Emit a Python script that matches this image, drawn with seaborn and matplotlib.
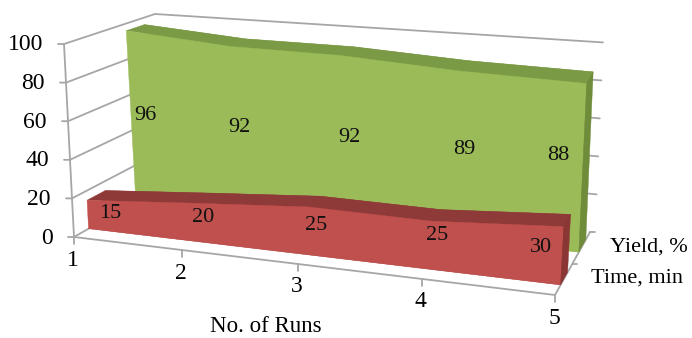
import numpy as np
import pandas as pd
import matplotlib
matplotlib.use("Agg")
import matplotlib.pyplot as plt
import seaborn as sns

runs = [1, 2, 3, 4, 5]
yield_pct = [96, 92, 92, 89, 88]
time_min = [15, 20, 25, 25, 30]
y_ticks = [0, 20, 40, 60, 80, 100]
series_names = ["Time, min", "Yield, %"]
x_title = "No. of Runs"

GREEN, GREEN_TOP, GREEN_SIDE = "#9BBB59", "#7A9A45", "#6F8C3A"
RED, RED_TOP, RED_SIDE = "#C0504D", "#8E3A38", "#8A3634"
GREY = "#A6A6A6"

# corners of the 3D box in picture pixels: (run end, depth, value end)
C = {(0, 0, 0): (74, 237), (1, 0, 0): (555, 295),
     (0, 1, 0): (165, 185), (1, 1, 0): (590, 232),
     (0, 0, 1): (64, 44),  (1, 0, 1): (566, 100),
     (0, 1, 1): (155, 14), (1, 1, 1): (598, 42)}
K = 1.15


def proj(run, depth, value):
    u = (run - 1) / 4
    s = u / (u + K * (1 - u))
    v = value / 100
    p = np.zeros(2)
    for (a, b, c), xy in C.items():
        w = (s if a else 1 - s) * (depth if b else 1 - depth) * (v if c else 1 - v)
        p += w * np.array(xy)
    return p


sns.set_theme(style="white")
plt.rcParams["font.family"] = ["Liberation Serif", "DejaVu Serif"]
fig, ax = plt.subplots(figsize=(6.92, 3.38), dpi=100)
ax.set_position([0, 0, 1, 1])
ax.set_xlim(0, 692)
ax.set_ylim(338, 0)
ax.axis("off")


def seg(points, color=GREY, lw=1.3, z=1):
    df = pd.DataFrame(points, columns=["x", "y"])
    sns.lineplot(data=df, x="x", y="y", sort=False, estimator=None,
                 color=color, lw=lw, ax=ax, zorder=z, legend=False)


# walls
for t in y_ticks:
    a, b, c = proj(1, 0, t), proj(1, 1, t), proj(5, 1, t)
    seg([a + (-6, 0), a, b, c + (5, 0.4)] if t else [a + (-6, 0), a])
    ax.text(a[0] - 21, a[1] + 1, str(t), ha="right", va="center", fontsize=17, color="black")
seg([proj(5, 1, 0), proj(5, 1, 0) + (5, 0)])
seg([proj(1, 0, 0), proj(1, 0, 100)])
seg([proj(1, 0, 0), proj(5, 0, 0), proj(5, 1, 0)])
seg([proj(1, 0, 0), proj(1, 1, 0)])
for r in runs:
    p = proj(r, 0, 0)
    seg([p, p + (0, 7)])
    ax.text(p[0] - 1, p[1] + (23 if r > 1 else 23), str(r), ha="center", va="center", fontsize=17, color="black")
p = proj(5, 0.5, 0)
seg([p, p + (4, 0)])


def area(values, d0, d1, front, top, side, z):
    f = [proj(r, d0, v) for r, v in zip(runs, values)]
    b = [proj(r, d1, v) for r, v in zip(runs, values)]
    fb = [proj(r, d0, 0) for r in runs]
    ax.fill(*zip(*(b + fb[::-1])), color=top, lw=0, zorder=z)
    for i in range(len(runs) - 1):
        ax.fill(*zip(f[i], f[i + 1], b[i + 1], b[i]), color=top, lw=0.3, zorder=z)
    ax.fill(*zip(*(f + fb[::-1])), color=front, lw=0.3, zorder=z + 1)
    r = runs[-1]
    ax.fill(*zip(f[-1], b[-1], proj(r, d1, 0), proj(r, d0, 0)), color=side, lw=0.3, zorder=z + 1)


area(yield_pct, 0.68, 0.88, GREEN, GREEN_TOP, GREEN_SIDE, 3)
area(time_min, 0.16, 0.36, RED, RED_TOP, RED_SIDE, 5)

yield_lab = [(145, 115), (239, 127), (349, 137), (464, 150), (558, 155)]
time_lab = [(110, 214), (203, 218), (316, 225), (437, 236), (541, 247)]
for vals, pos in ((yield_pct, yield_lab), (time_min, time_lab)):
    for v, (x, y) in zip(vals, pos):
        ax.text(x, y, str(v), ha="center", va="center", fontsize=16, color="#111111", zorder=10)

ax.text(649, 247, series_names[1], ha="center", va="center", fontsize=16, color="black")
ax.text(637, 278, series_names[0], ha="center", va="center", fontsize=16, color="black")
ax.text(266, 327, x_title, ha="center", va="center", fontsize=16.5, color="black")

fig.savefig("out.png", dpi=100)
